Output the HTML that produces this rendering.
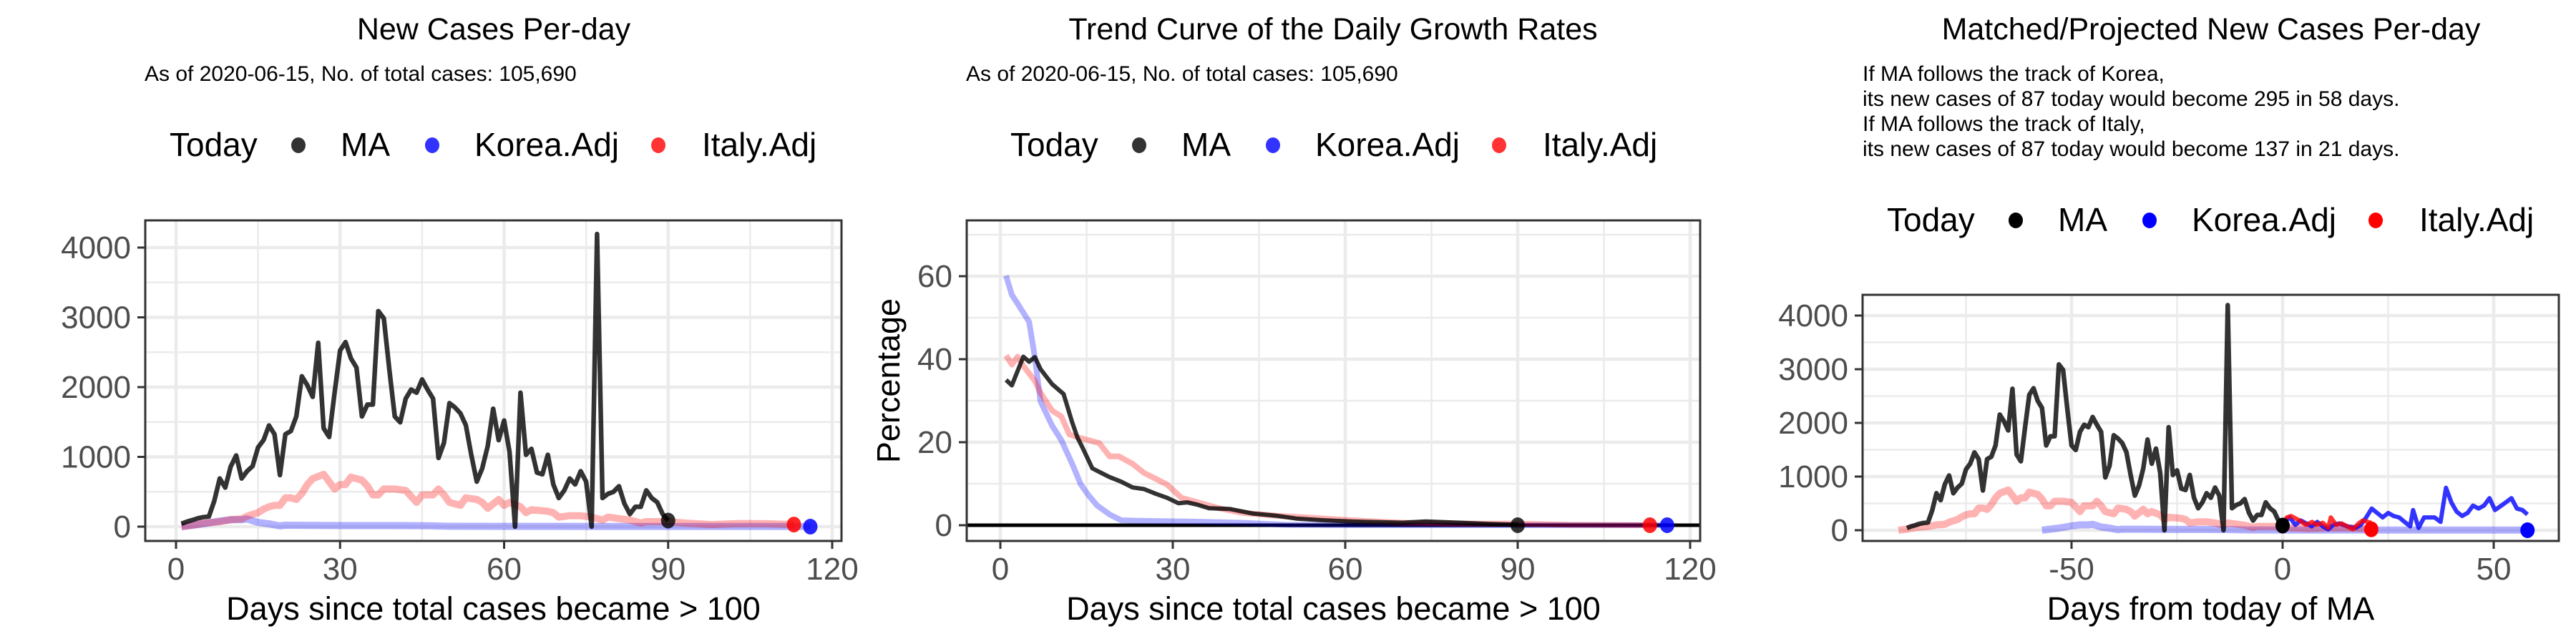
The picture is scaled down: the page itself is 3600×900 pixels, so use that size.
<!DOCTYPE html>
<html><head><meta charset="utf-8">
<style>
html,body{margin:0;padding:0;background:#fff;}
svg{display:block;font-family:"Liberation Sans",Arial,sans-serif;}
</style></head>
<body>
<svg id="chart" width="3600" height="900" viewBox="0 0 3600 900" xmlns="http://www.w3.org/2000/svg"></svg>
<script>
// ---------- DATA ----------
const maDays = Array.from({length:90},(_, i)=>i+1);
const maNew = [42,72,94,120,136,145,370,690,560,860,1020,690,795,867,1135,1240,1450,1325,740,1325,1370,1580,2155,2030,1860,2635,1410,1285,1920,2525,2645,2410,2280,1580,1750,1750,3090,2985,2260,1580,1495,1835,1965,1920,2110,1965,1835,985,1200,1770,1710,1625,1455,1030,645,835,1155,1690,1240,1520,1070,0,1920,1030,1115,775,750,1030,605,410,520,690,605,795,645,0,4195,410,470,500,580,330,180,285,285,520,410,350,180,87];
const italyDays = [1,3,5,8,10,12,13,15,16,17,18,19,20,21,22,23,24,25,27,28,29,30,31,32,33,34,35,36,37,38,40,42,43,44,45,47,48,49,50,52,53,55,56,57,58,59,60,61,63,64,65,68,69,70,72,74,76,78,79,81,83,85,86,90,93,98,103,108,113];
const italyNew = [0,20,50,70,100,110,150,200,250,285,306,306,412,412,390,476,603,688,750,646,540,603,603,710,688,667,582,455,455,540,540,518,434,348,455,455,540,455,348,306,412,390,348,263,327,390,306,348,285,200,242,221,200,136,157,157,136,94,136,115,94,51,72,72,51,30,45,42,30];
const koreaDays = [1,3,5,8,10,12,13,15,17,19,20,25,30,35,40,46,50,60,80,100,116];
const koreaNew = [0,20,40,80,100,100,110,60,40,10,20,18,15,15,15,12,5,4,3,3,3];

const grDaysMA = [1,2,4,5,6,7,9,11,12.5,13.4,14.4,16,18,19,21,23,25,27,29,31,32.5,34.4,36.3,40,44,48,51.5,56,61,70,74,80,85,90];
const grMA = [35,33.7,40.6,39.4,40.5,37.6,34,31.6,24.8,21.2,18.4,13.7,12.3,11.6,10.5,9.1,8.7,7.6,6.6,5.3,5.5,4.9,4.1,3.9,2.8,2.3,1.6,1.2,0.9,0.6,0.9,0.6,0.3,0.1];
const grDaysItaly = [1,2,3,4,6,7,9,10.6,12,13.4,15.3,17.2,19,20.6,23,25,27,29,31.5,34.4,38,42,48,53,61,70,80,90,99,113];
const grItaly = [40.9,38.7,40.6,38.4,34.8,31.9,27.6,26.2,21.9,21.2,20.5,19.8,16.6,16.6,14.8,12.6,11.2,9.8,6.6,5.5,4.1,3,2.3,1.9,1.2,0.6,0.4,0.4,0.1,0];
const grDaysKorea = [1,2,3,5,6,7,9,10.6,12.5,14,15.3,16.8,19,21,23,32.5,42,49.6,61,116];
const grKorea = [60.1,55.5,53.4,49,40.5,29.8,24,20.5,14.8,9.8,7.3,4.8,2.6,1.2,1.1,0.9,0.6,0.1,0,0];

const italyShift = -92;
const koreaShift = -58;
const maShift = -90;
const projItalyDays = [0,1,2,4,5.5,7,8,9.5,10.8,11.4,12.7,14,15.3,16.6,18,19,21];
const projItaly = [127,238,265,182,100,155,100,138,44,238,100,127,72,17,127,182,137];
const projKoreaDays = [0,1.7,3,4.3,5.6,6.9,8.2,9.5,10.8,12,13.4,15.3,17.3,18.5,19.8,21.1,22.4,23.7,25,26.3,27.6,28.9,30.2,30.9,32.2,33.5,34.8,36,37.4,38.7,40,41.2,42.5,43.8,45.1,46.4,47.7,49,50.3,52.3,54.2,55.5,56.8,58];
const projKorea = [127,238,100,182,127,72,155,72,17,100,127,72,44,100,238,404,321,238,321,265,238,155,72,376,44,238,238,238,155,791,514,348,265,321,459,404,459,597,376,487,597,404,376,293];

const todayMA = 87;
const todayItalyP1 = 30, todayKoreaP1 = 0;
const todayItalyP3 = 17, todayKoreaP3 = 0;

const casesTicks = [0,1000,2000,3000,4000];
const casesMinor = [500,1500,2500,3500];
const dayTicks = [0,30,60,90,120];
const dayMinor = [15,45,75,105];
const pctTicks = [0,20,40,60];
const pctMinor = [10,30,50,70];
const relTicks = [-50,0,50];
const relMinor = [-75,-25,25];

// ---------- HELPERS ----------
const NS = "http://www.w3.org/2000/svg";
const svg = document.getElementById('chart');
function mk(tag, attrs, parent, text){
  const e = document.createElementNS(NS, tag);
  for (const k in attrs) e.setAttribute(k, attrs[k]);
  if (text !== undefined) e.textContent = text;
  (parent||svg).appendChild(e);
  return e;
}
function lin(d0,d1,r0,r1){return v=>r0+(v-d0)*(r1-r0)/(d1-d0);}

function panel(p){
  const g = mk('g',{});
  
  
  const X = p.X, Y = p.Y;
  const bg = mk('rect',{x:p.L,y:p.T,width:p.R-p.L,height:p.B-p.T,fill:'#fff'},g);
  
  
  p.xMinor.forEach(v=>{const l=mk('line',{x1:X(v),x2:X(v),y1:p.T,y2:p.B,stroke:'#ebebeb','stroke-width':2.5},g);
     });
  p.yMinor.forEach(v=>{const l=mk('line',{x1:p.L,x2:p.R,y1:Y(v),y2:Y(v),stroke:'#ebebeb','stroke-width':2.5},g);
     });
  p.xTicks.forEach(v=>{const l=mk('line',{x1:X(v),x2:X(v),y1:p.T,y2:p.B,stroke:'#ebebeb','stroke-width':4.5},g);
     });
  p.yTicks.forEach(v=>{const l=mk('line',{x1:p.L,x2:p.R,y1:Y(v),y2:Y(v),stroke:'#ebebeb','stroke-width':4.5},g);
     });
  const cp = 'clip-'+p.name;
  const cl = mk('clipPath',{id:cp},g); mk('rect',{x:p.L,y:p.T,width:p.R-p.L,height:p.B-p.T},cl);
  const lg = mk('g',{'clip-path':'url(#'+cp+')'},g);
  if (p.zeroLine){const z=mk('line',{x1:p.L,x2:p.R,y1:Y(0),y2:Y(0),stroke:'#000','stroke-width':5},lg);
     }
  p.series.forEach(s=>{
    const pts = s.xs.map((x,i)=>X(x+(s.shift||0)).toFixed(1)+','+Y(s.ys[i]).toFixed(1)).join(' ');
    const pl = mk('polyline',{points:pts,fill:'none',stroke:s.color,'stroke-width':s.w,'stroke-linejoin':'round','stroke-linecap':'butt'},lg);
    
    
  });
  p.dots.forEach(d=>{
    const c = mk('ellipse',{cx:X(d.x),cy:Y(d.y),rx:10,ry:11,fill:d.color,stroke:d.stroke||'none','stroke-width':2},lg);
    
    
  });
  const fr = mk('rect',{x:p.L,y:p.T,width:p.R-p.L,height:p.B-p.T,fill:'none',stroke:'#333','stroke-width':3},g);
   
  p.yTicks.forEach(v=>{
    mk('line',{x1:p.L-11,x2:p.L,y1:Y(v),y2:Y(v),stroke:'#333','stroke-width':3},g);
    const t = mk('text',{x:p.L-20,y:Y(v)+15,'text-anchor':'end','font-size':44,fill:'#4d4d4d'},g,String(v));
     
  });
  p.xTicks.forEach(v=>{
    mk('line',{x1:X(v),x2:X(v),y1:p.B,y2:p.B+11,stroke:'#333','stroke-width':3},g);
    const t = mk('text',{x:X(v),y:810,'text-anchor':'middle','font-size':44,fill:'#4d4d4d'},g,String(v));
     
  });
  const xt = mk('text',{x:(p.L+p.R)/2,y:866,'text-anchor':'middle','font-size':45,fill:'#000'},g,p.xTitle);
   
  if (p.yTitle){
    const yt = mk('text',{x:0,y:0,'text-anchor':'middle','font-size':45,fill:'#000',transform:'translate(1257,'+((p.T+p.B)/2)+') rotate(-90)'},g,p.yTitle);
     
  }
  const tt = mk('text',{x:p.titleX,y:55,'text-anchor':'middle','font-size':43,fill:'#000'},g,p.title);
   
  p.sub.forEach((line,i)=>{
    const st = mk('text',{x:p.subX,y:113+i*35,'font-size':30,fill:'#000'},g,line);
     
  });
  // legend
  const o = p.legX, ly = p.legY;
  const leg = mk('g',{},g);
   
  const lt = mk('text',{x:o+237,y:ly,'font-size':46,fill:'#000'},leg,'Today');
   
  const items = [['MA',417,476,p.legCols[0]],['Korea.Adj',604,663,p.legCols[1]],['Italy.Adj',920,981,p.legCols[2]]];
  items.forEach(it=>{
    const c = mk('ellipse',{cx:o+it[1],cy:ly-15,rx:10,ry:11,fill:it[3]},leg);
    
    
    const t = mk('text',{x:o+it[2],y:ly,'font-size':46,fill:'#000'},leg,it[0]);
    
    
  });
}

const BLK='rgba(0,0,0,0.8)', PINK='rgba(255,0,0,0.3)', LBLUE='rgba(0,0,255,0.3)';
const subP = ['As of 2020-06-15, No. of total cases: 105,690'];

// Panel 1
panel({name:'new-cases-panel',L:203,R:1176,T:308,B:756,
  X:lin(0,120,246,1163),Y:lin(0,4000,736,346),
  xTicks:dayTicks,xMinor:dayMinor,yTicks:casesTicks,yMinor:casesMinor,
  series:[
    {name:'korea-adj-line',xs:koreaDays,ys:koreaNew,color:LBLUE,w:10},
    {name:'italy-adj-line',xs:italyDays,ys:italyNew,color:PINK,w:10},
    {name:'ma-line',xs:maDays,ys:maNew,color:BLK,w:6.5}],
  dots:[{name:'today-ma-dot',x:90,y:todayMA,color:BLK},
        {name:'today-italy-dot',x:113,y:todayItalyP1,color:'rgba(255,0,0,0.85)'},
        {name:'today-korea-dot',x:116,y:todayKoreaP1,color:'rgba(0,0,255,0.85)'}],
  xTitle:'Days since total cases became > 100',title:'New Cases Per-day',titleX:690,
  sub:subP,subX:202,legX:0,legY:218,legCols:['#333','#3333ff','#ff3333']});

// Panel 2
panel({name:'growth-rate-panel',L:1351,R:2376,T:308,B:756,
  X:lin(0,120,1398,2362),Y:lin(0,60,734,386),zeroLine:true,
  xTicks:dayTicks,xMinor:dayMinor,yTicks:pctTicks,yMinor:pctMinor,
  series:[
    {name:'korea-growth-line',xs:grDaysKorea,ys:grKorea,color:LBLUE,w:8},
    {name:'italy-growth-line',xs:grDaysItaly,ys:grItaly,color:PINK,w:8},
    {name:'ma-growth-line',xs:grDaysMA,ys:grMA,color:BLK,w:6}],
  dots:[{name:'today-ma-dot',x:90,y:0,color:BLK},
        {name:'today-italy-dot',x:113,y:0,color:'rgba(255,0,0,0.85)'},
        {name:'today-korea-dot',x:116,y:0,color:'rgba(0,0,255,0.85)'}],
  xTitle:'Days since total cases became > 100',yTitle:'Percentage',title:'Trend Curve of the Daily Growth Rates',titleX:1863,
  sub:subP,subX:1350,legX:1175,legY:218,legCols:['#333','#3333ff','#ff3333']});

// Panel 3
panel({name:'projected-cases-panel',L:2603,R:3576,T:412,B:756,
  X:lin(0,50,3190,3485),Y:lin(0,4000,741,441),
  xTicks:relTicks,xMinor:relMinor,yTicks:casesTicks,yMinor:casesMinor,
  series:[
    {name:'korea-matched-line',xs:koreaDays,ys:koreaNew,shift:koreaShift,color:LBLUE,w:10},
    {name:'italy-matched-line',xs:italyDays,ys:italyNew,shift:italyShift,color:PINK,w:10},
    {name:'ma-line',xs:maDays,ys:maNew,shift:maShift,color:BLK,w:6.5},
    {name:'korea-projection-line',xs:projKoreaDays,ys:projKorea,color:'rgba(0,0,255,0.8)',w:6},
    {name:'italy-projection-line',xs:projItalyDays,ys:projItaly,color:'rgba(255,0,0,0.8)',w:6}],
  dots:[{name:'today-ma-dot',x:0,y:todayMA,color:'#000'},
        {name:'projected-italy-dot',x:21,y:todayItalyP3,color:'#ff0000'},
        {name:'projected-korea-dot',x:58,y:todayKoreaP3,color:'#0000ff'}],
  xTitle:'Days from today of MA',title:'Matched/Projected New Cases Per-day',titleX:3090,
  sub:['If MA follows the track of Korea,','its new cases of 87 today would become 295 in 58 days.','If MA follows the track of Italy,','its new cases of 87 today would become 137 in 21 days.'],
  subX:2603,legX:2400,legY:323,legCols:['#000','#0000ff','#ff0000']});
</script>
</body></html>
